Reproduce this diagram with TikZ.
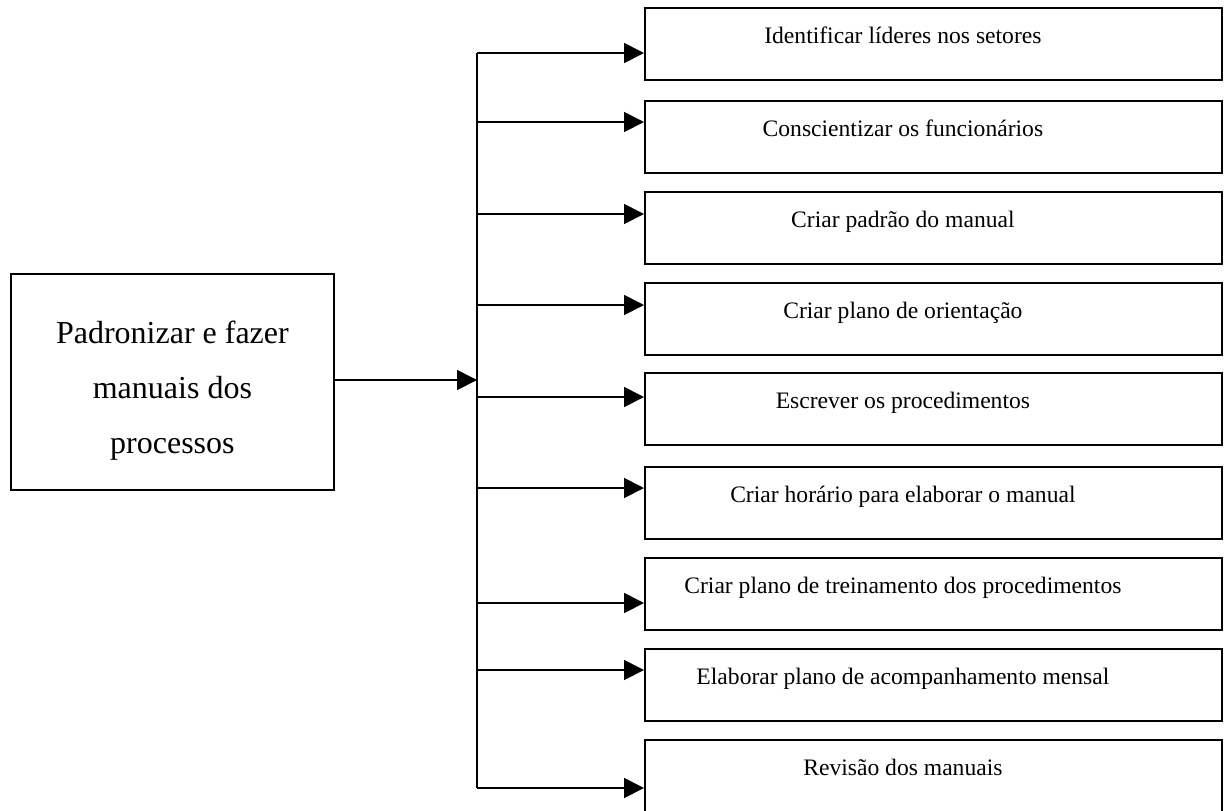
\documentclass[tikz,border=0pt]{standalone}
\usepackage{fontspec}
\setmainfont{Liberation Serif}
\usetikzlibrary{arrows.meta}
\begin{document}
\begin{tikzpicture}[x=0.5pt,y=-0.5pt]
	\tikzset{goal/.style = {shape=rectangle,draw,line width=0.9pt,inner sep=0pt,anchor=north west,minimum width=161.5pt,minimum height=108pt}}
	\tikzset{goaltext/.style = {anchor=center,yshift=-4.5pt,inner sep=0pt,align=center,font=\fontsize{16}{27.5}\selectfont}}
	\tikzset{task/.style = {shape=rectangle,draw,line width=0.9pt,inner sep=0pt,anchor=north west,minimum width=288.5pt,minimum height=36pt}}
	\tikzset{tasktext/.style = {anchor=base,xshift=-15.25pt,yshift=-18pt,inner sep=0pt,font=\fontsize{11.8}{14}\selectfont}}
	\tikzset{edge/.style = {line width=0.9pt,-{Triangle[length=10pt,width=10pt]}}}
	\useasboundingbox (0,0) rectangle (1225,810);
	\node[goal,label={[goaltext]center:Padronizar e fazer\\manuais dos\\processos}] (g) at (10,273) {};
	\node[task,label={[tasktext]north:Identificar líderes nos setores}] (b1) at (644,7) {};
	\node[task,label={[tasktext]north:Conscientizar os funcionários}] (b2) at (644,100) {};
	\node[task,label={[tasktext]north:Criar padrão do manual}] (b3) at (644,191) {};
	\node[task,label={[tasktext]north:Criar plano de orientação}] (b4) at (644,282) {};
	\node[task,label={[tasktext]north:Escrever os procedimentos}] (b5) at (644,372) {};
	\node[task,label={[tasktext]north:Criar horário para elaborar o manual}] (b6) at (644,466) {};
	\node[task,label={[tasktext]north:Criar plano de treinamento dos procedimentos}] (b7) at (644,557) {};
	\node[task,label={[tasktext]north:Elaborar plano de acompanhamento mensal}] (b8) at (644,648) {};
	\node[task,label={[tasktext]north:Revisão dos manuais}] (b9) at (644,739) {};
	% spine
	\coordinate (hub) at (477,380);
	\coordinate (s1) at (477,53);
	\coordinate (s2) at (477,122);
	\coordinate (s3) at (477,214);
	\coordinate (s4) at (477,305);
	\coordinate (s5) at (477,397);
	\coordinate (s6) at (477,488);
	\coordinate (s7) at (477,603);
	\coordinate (s8) at (477,670);
	\coordinate (s9) at (477,788);
	\draw[line width=0.9pt] (s1) -- (s9);
	\draw[edge] (g.east |- hub) -- (hub);
	\draw[edge] (s1) -- (s1 -| b1.west);
	\draw[edge] (s2) -- (s2 -| b2.west);
	\draw[edge] (s3) -- (s3 -| b3.west);
	\draw[edge] (s4) -- (s4 -| b4.west);
	\draw[edge] (s5) -- (s5 -| b5.west);
	\draw[edge] (s6) -- (s6 -| b6.west);
	\draw[edge] (s7) -- (s7 -| b7.west);
	\draw[edge] (s8) -- (s8 -| b8.west);
	\draw[edge] (s9) -- (s9 -| b9.west);
\end{tikzpicture}
\end{document}
